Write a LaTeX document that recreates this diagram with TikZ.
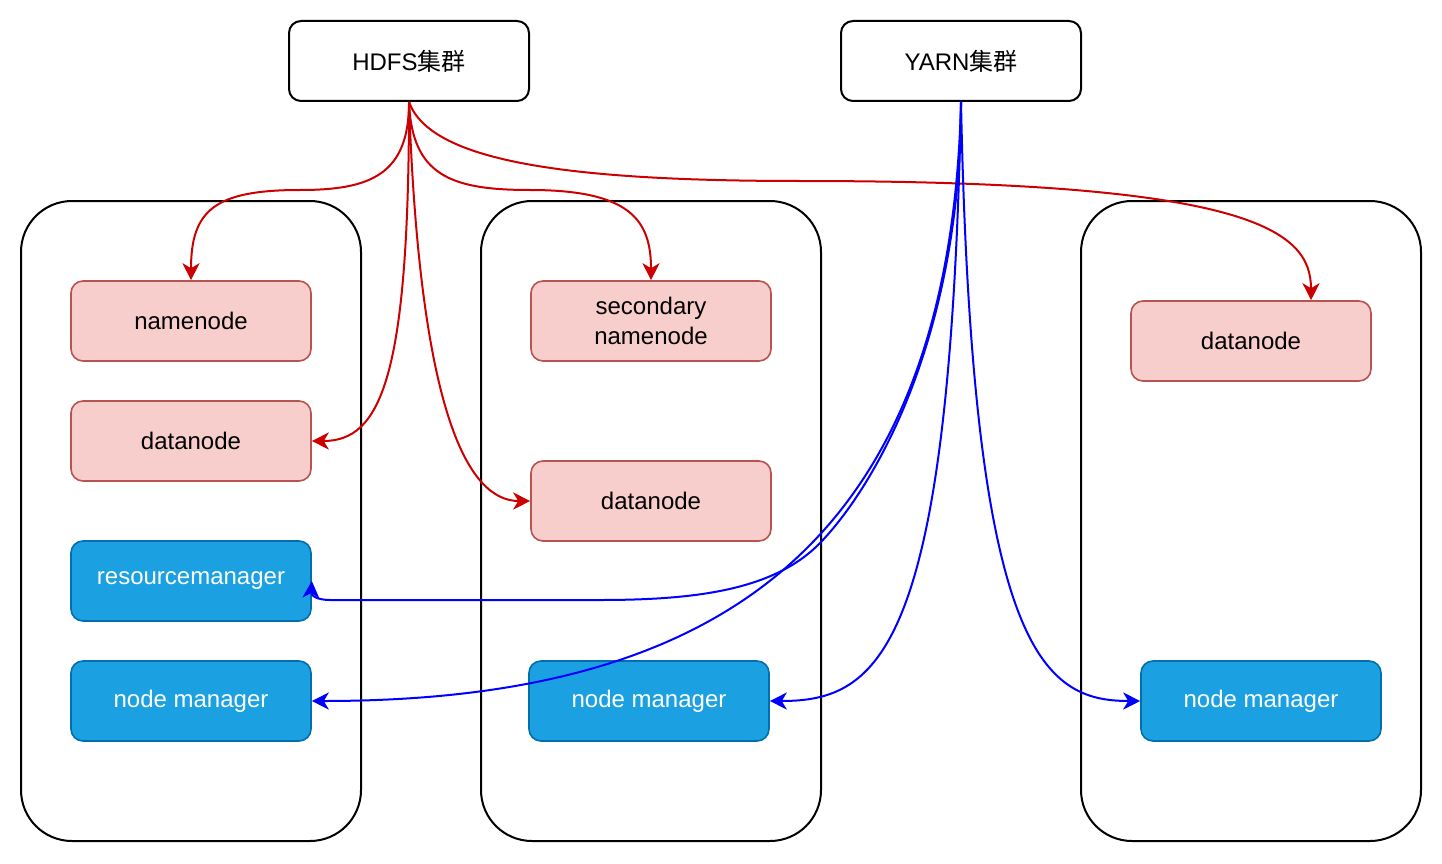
\documentclass[tikz,border=0pt]{standalone}
\usepackage{fontspec}
\setmainfont{Liberation Sans}
\newfontfamily\cjk{Noto Sans CJK SC}
\usetikzlibrary{arrows.meta}
\definecolor{hdfsfill}{HTML}{F8CECC}
\definecolor{hdfsdraw}{HTML}{B85450}
\definecolor{yarnfill}{HTML}{1BA1E2}
\definecolor{yarndraw}{HTML}{006EAF}
\definecolor{hdfsred}{HTML}{CC0000}
\definecolor{yarnblue}{HTML}{0000FF}
\newcommand{\boxfont}{\fontsize{24}{29.5}\selectfont}
\tikzstyle{cluster}=[rectangle,draw=black,line width=2pt,rounded corners=12pt,
  minimum width=240pt,minimum height=80pt,font=\boxfont]
\tikzstyle{host}=[rectangle,draw=black,line width=2pt,rounded corners=51pt,
  minimum width=340pt,minimum height=640pt]
\tikzstyle{hdfsbox}=[rectangle,draw=hdfsdraw,fill=hdfsfill,line width=1.6pt,
  rounded corners=12pt,minimum width=240pt,minimum height=80pt,font=\boxfont,align=center]
\tikzstyle{yarnbox}=[hdfsbox,draw=yarndraw,fill=yarnfill,text=white]
\tikzstyle{hdfslink}=[draw=hdfsred,line width=2pt,-{Stealth[length=17pt,width=17pt,inset=5pt]}]
\tikzstyle{yarnlink}=[draw=yarnblue,line width=2pt,-{Stealth[length=17pt,width=17pt,inset=5pt]}]

\begin{document}
\begin{tikzpicture}[x=1pt,y=-1pt]
  \useasboundingbox (0,0) rectangle (1442,864);

  \node[cluster] (hdfs) at (409,61) {HDFS{\cjk 集群}};
  \node[cluster] (yarn) at (961,61) {YARN{\cjk 集群}};

  \node[host] (host1) at (191,521) {};
  \node[host] (host2) at (651,521) {};
  \node[host] (host3) at (1251,521) {};

  \node[hdfsbox] (namenode) at (191,321) {namenode};
  \node[hdfsbox] (dn1) at (191,441) {datanode};
  \node[yarnbox] (rm) at (191,581) {resourcemanager};
  \node[yarnbox] (nm1) at (191,701) {node manager};

  \node[hdfsbox] (snn) at (651,321) {secondary\\namenode};
  \node[hdfsbox] (dn2) at (651,501) {datanode};
  \node[yarnbox] (nm2) at (649,701) {node manager};

  \node[hdfsbox] (dn3) at (1251,341) {datanode};
  \node[yarnbox] (nm3) at (1261,701) {node manager};

  % hdfs
  \draw[hdfslink] (hdfs.south) .. controls (409,175) and (370,190) .. (300,190)
    .. controls (215,190) and (191,210) .. (namenode.north);
  \draw[hdfslink] (hdfs.south) .. controls (409,380) and (380,441) .. (dn1.east);
  \draw[hdfslink] (hdfs.south) .. controls (420,420) and (470,501) .. (dn2.west);
  \draw[hdfslink] (hdfs.south) .. controls (412,175) and (450,190) .. (530,190)
    .. controls (630,190) and (651,220) .. (snn.north);
  \draw[hdfslink] (hdfs.south) .. controls (430,160) and (560,181) .. (800,181)
    .. controls (1250,181) and (1311,230) .. ([xshift=60pt]dn3.north);

  % yarn
  \draw[yarnlink] (yarn.south) .. controls (961,330) and (880,480) .. (821,542)
    .. controls (776,589) and (700,600) .. (600,600)
    -- (330,600) .. controls (318,600) and (311,596) .. (rm.east);
  \draw[yarnlink] (yarn.south) .. controls (950,560) and (700,701) .. (nm1.east);
  \draw[yarnlink] (yarn.south) .. controls (950,650) and (880,701) .. (nm2.east);
  \draw[yarnlink] (yarn.south) .. controls (972,650) and (1042,701) .. (nm3.west);
\end{tikzpicture}
\end{document}
